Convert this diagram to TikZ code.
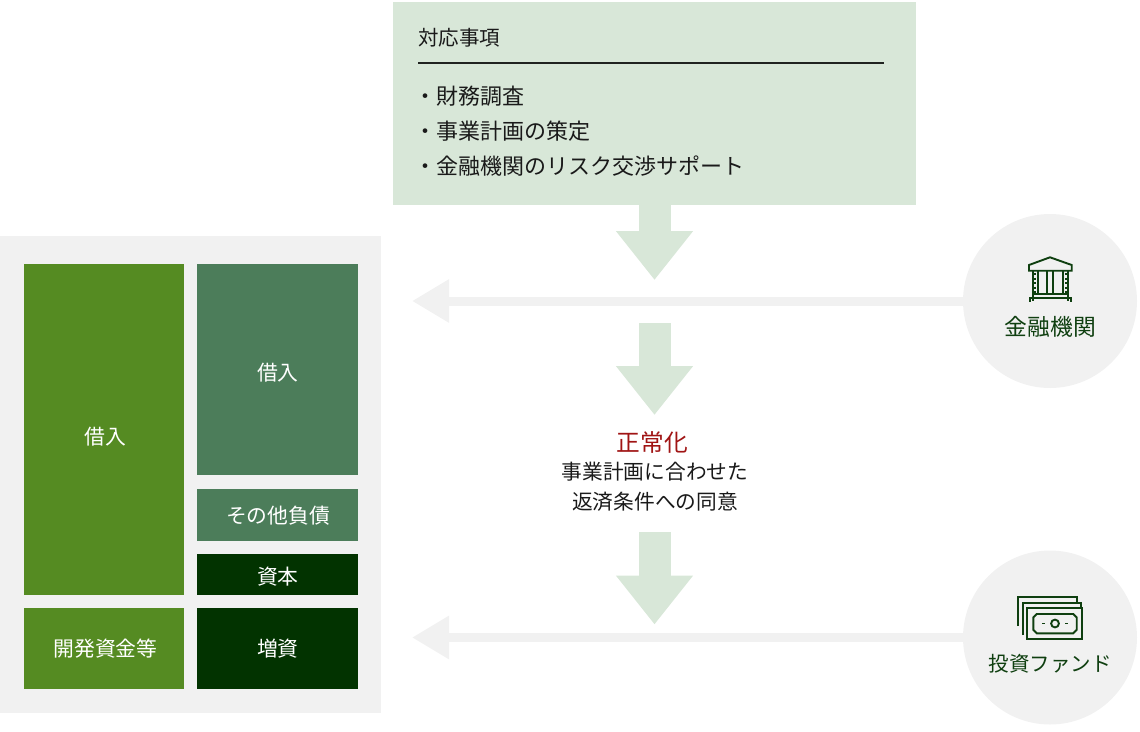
\documentclass[tikz,border=0pt]{standalone}
\usepackage{fontspec}
\setmainfont{Noto Sans CJK JP}[BoldFont={Noto Sans CJK JP}]
\usetikzlibrary{arrows.meta}
\definecolor{lgreen}{HTML}{D8E7D8}
\definecolor{lgray}{HTML}{F1F1F1}
\definecolor{gA}{HTML}{558B22}
\definecolor{gB}{HTML}{4C7D5A}
\definecolor{gC}{HTML}{023300}
\definecolor{ink}{HTML}{0F3F10}
\definecolor{txt}{HTML}{1A1A1A}
\definecolor{crimson}{HTML}{A01414}
\tikzset{
  x=1pt,y=-1pt,
  blockbox/.style={anchor=north west,inner sep=0pt,outer sep=0pt,minimum width=160.6pt,fill=#1},
  wtxt/.style={inner sep=0pt,font=\fontsize{20.8}{24}\selectfont,text=white},
  bigarrow/.style={draw=lgreen,line width=32pt,-{Triangle[length=49pt,width=74pt,color=lgreen]}},
  sidearrow/.style={draw=lgray,line width=9pt,-{Triangle[length=37pt,width=41pt,color=lgray]}},
  circ/.style={circle,fill=lgray,minimum size=174pt,inner sep=0pt,outer sep=0pt},
  icon/.style={draw=ink,line width=1.9pt,fill=none},
  itemtxt/.style={anchor=west,inner sep=0pt,text=txt,font=\fontsize{22}{26}\selectfont},
  midtxt/.style={inner sep=0pt,text=txt,font=\fontsize{20.7}{24}\selectfont},
  circtxt/.style={inner sep=0pt,text=ink},
}
\begin{document}
\begin{tikzpicture}
\useasboundingbox (0,0) rectangle (1140,731);
% left panel
\node[anchor=north west,inner sep=0pt,outer sep=0pt,minimum width=381pt,minimum height=476.7pt,fill=lgray] (panel) at (0,236) {};
\node[blockbox=gA,minimum height=331.2pt] (b1) at (23.7,263.8) {};
\node[blockbox=gA,minimum height=81pt] (b2) at (23.7,608.3) {};
\node[blockbox=gB,minimum height=211pt] (b3) at (197.2,263.8) {};
\node[blockbox=gB,minimum height=52pt] (b4) at (197.2,489) {};
\node[blockbox=gC,minimum height=40.7pt] (b5) at (197.2,554.3) {};
\node[blockbox=gC,minimum height=81pt] (b6) at (197.2,608.3) {};
\node[wtxt] (t1) at (105.5,437) {借入};
\node[wtxt] (t2) at (105.5,648.5) {開発資金等};
\node[wtxt] (t3) at (277.8,373) {借入};
\node[wtxt] (t4) at (278,516) {その他負債};
\node[wtxt] (t5) at (277.8,577) {資本};
\node[wtxt] (t6) at (277.8,648.5) {増資};
% top box
\node[anchor=north west,inner sep=0pt,outer sep=0pt,minimum width=523pt,minimum height=203.3pt,fill=lgreen] (top) at (393,2) {};
\node[itemtxt,font=\fontsize{20.5}{24}\selectfont] (title) at (418,37.5) {対応事項};
\coordinate (ruleL) at (418,63);
\coordinate (ruleR) at (884,63);
\draw[line width=1.6pt,draw=black!85!lgreen] (ruleL) -- (ruleR);
\node[itemtxt] (i1) at (414,96.5) {・財務調査};
\node[itemtxt] (i2) at (414,131.5) {・事業計画の策定};
\node[itemtxt] (i3) at (414,166) {・金融機関のリスク交渉サポート};
% circles
\node[circ] (bank) at (1050,301) {};
\node[circ] (fund) at (1050,637.5) {};
% big arrows
\coordinate (a1s) at (654.5,205);
\coordinate (a1e) at (654.5,280);
\coordinate (a2s) at (654.5,323);
\coordinate (a2e) at (654.5,415);
\coordinate (a3s) at (654.5,532);
\coordinate (a3e) at (654.5,624.5);
\draw[bigarrow] (a1s) -- (a1e);
\draw[bigarrow] (a2s) -- (a2e);
\draw[bigarrow] (a3s) -- (a3e);
% side arrows
\coordinate (s1e) at (412,301);
\coordinate (s2e) at (412,637.5);
\draw[sidearrow] (bank.west) -- (s1e);
\draw[sidearrow] (fund.west) -- (s2e);
% middle text
\node[inner sep=0pt,text=crimson,font=\fontsize{23.7}{28}\selectfont] (n1) at (652.5,442) {正常化};
\node[midtxt] (n2) at (655,472) {事業計画に合わせた};
\node[midtxt] (n3) at (655,502) {返済条件への同意};
% circle labels
\node[circtxt,font=\fontsize{22.8}{26}\selectfont] (bl) at (1050.5,326.5) {金融機関};
\node[circtxt,font=\fontsize{20.5}{24}\selectfont] (fl) at (1050,663.5) {投資ファンド};
% bank icon
\draw[icon] (1029,270.7) -- (1029,265) -- (1050,257.3) -- (1071.7,265) -- (1071.7,270.7) -- cycle;
\draw[icon] (1032.7,271) -- (1032.7,301) (1068.3,271) -- (1068.3,301);
\draw[icon] (1037.7,271) -- (1037.7,293.5) (1047.3,271) -- (1047.3,293.5)
  (1052.7,271) -- (1052.7,293.5) (1063.3,271) -- (1063.3,293.5);
\draw[icon] (1032.7,293.8) -- (1068.3,293.8);
\draw[icon] (1030,301.8) -- (1030,298.3) -- (1070.7,298.3) -- (1070.7,301.8);
\draw[ink,line width=1.2pt,dash pattern=on 2pt off 2.5pt] (1035,273) -- (1035,293);
\draw[ink,line width=1.2pt,dash pattern=on 2pt off 2.5pt] (1066,273) -- (1066,293);
% money icon
\draw[icon] (1018.3,626) -- (1018.3,597.3) -- (1076.7,597.3) -- (1076.7,602.7);
\draw[icon] (1022.7,635) -- (1022.7,602.7) -- (1081,602.7) -- (1081,608.3);
\draw[icon,line width=2.2pt,fill=lgray] (1027.3,608.3) rectangle (1082.3,639);
\draw[icon] (1036.8,614) -- (1073.2,614) -- (1076.7,617.5) -- (1076.7,629.8) -- (1073.2,633.3) -- (1036.8,633.3) -- (1033.3,629.8) -- (1033.3,617.5) -- cycle;
\draw[icon] (1055,623.5) circle (3.9);
\draw[icon] (1042,623.5) -- (1045.2,623.5) (1065,623.5) -- (1068.2,623.5);
\end{tikzpicture}
\end{document}
